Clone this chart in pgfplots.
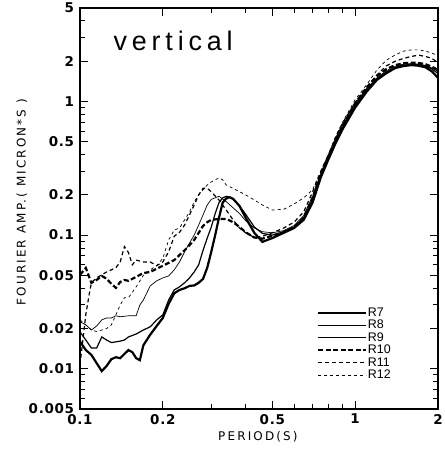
\documentclass[border=0pt]{standalone}
\usepackage{fontspec}
\usepackage{pgfplots}
\pgfplotsset{compat=1.18}
\setmainfont{Liberation Sans}
\newfontfamily\tickfont[LetterSpace=5]{DejaVu Sans}
\newfontfamily\labfont[LetterSpace=18]{DejaVu Sans}
\newfontfamily\vertfont[LetterSpace=18]{Liberation Sans}
\newfontfamily\legfont{Liberation Sans}
\begin{document}
\begin{tikzpicture}
\begin{axis}[
  name=ax,
  scale only axis, width=358bp, height=401bp,
  xmode=log, ymode=log,
  xmin=0.1, xmax=2, ymin=0.005, ymax=5,
  axis line style={line width=1.6bp},
  tick style={line width=1bp, black},
  major tick length=8bp, minor tick length=5bp,
  tick align=inside,
  xtick={0.1,0.2,0.5,1,2}, xticklabels={0.1,0.2,0.5,1,2},
  minor xtick={0.3,0.4,0.6,0.7,0.8,0.9},
  ytick={0.005,0.01,0.02,0.05,0.1,0.2,0.5,1,2,5},
  yticklabels={0.005,0.01,0.02,0.05,0.1,0.2,0.5,1,2,5},
  minor ytick={0.006,0.007,0.008,0.009,0.03,0.04,0.06,0.07,0.08,0.09,0.3,0.4,0.6,0.7,0.8,0.9,3,4},
  ticklabel style={font=\tickfont\bfseries\fontsize{13.5}{13.5}\selectfont},
  /pgf/number format/assume math mode=true,
  yticklabel style={xshift=-2.5bp},
  xticklabel style={yshift=-1.5bp},
  xlabel={PERIOD(S)},
  ylabel={FOURIER AMP.( MICRON*S )},
  label style={font=\labfont\fontsize{12}{12}\selectfont},
  xlabel style={at={(axis description cs:0.497,-0.068)}, anchor=center},
  ylabel style={at={(axis description cs:-0.162,0.516)}, anchor=center, rotate=0},
  legend cell align=left,
  legend image code/.code={\draw[#1] (0bp,0bp) -- (48bp,0bp);},
  legend style={at={(rel axis cs:0.662,0.256)}, anchor=north west, draw=none, fill=none,
    font=\legfont\fontsize{12.5}{12.5}\selectfont, row sep=0bp, inner sep=0pt,
    nodes={inner sep=0.5bp, text height=9bp, text depth=2.5bp}},
]
% R7
\addplot[black, line width=2.2bp] coordinates {
(0.100,0.0160) (0.105,0.0138) (0.110,0.0127) (0.115,0.0110) (0.120,0.0096) (0.125,0.0105)
(0.130,0.0118) (0.135,0.0122) (0.140,0.0120) (0.145,0.0129) (0.150,0.0138) (0.155,0.0133)
(0.160,0.0120) (0.165,0.0116) (0.170,0.0150) (0.180,0.0180) (0.190,0.0209) (0.200,0.0240)
(0.210,0.0306) (0.220,0.0367) (0.230,0.0389) (0.240,0.0400) (0.250,0.0417) (0.260,0.0420)
(0.270,0.0440) (0.280,0.0470) (0.290,0.0570) (0.300,0.0750) (0.310,0.100) (0.320,0.135)
(0.330,0.175) (0.340,0.188) (0.350,0.192) (0.360,0.187) (0.380,0.165) (0.400,0.135)
(0.430,0.104) (0.460,0.089) (0.500,0.095) (0.550,0.104) (0.600,0.113) (0.650,0.130)
(0.700,0.175) (0.750,0.27) (0.800,0.37) (0.850,0.49) (0.900,0.62) (1.0,0.90) (1.1,1.18)
(1.2,1.45) (1.3,1.63) (1.4,1.78) (1.5,1.84) (1.6,1.87) (1.7,1.85) (1.8,1.80) (1.9,1.68) (2.0,1.50)};
\addlegendentry{R7}
% R8
\addplot[black, line width=1.2bp] coordinates {
(0.100,0.0189) (0.105,0.0164) (0.110,0.0143) (0.115,0.0143) (0.120,0.0173) (0.125,0.0164)
(0.130,0.0157) (0.135,0.0159) (0.140,0.0161) (0.145,0.0164) (0.150,0.0173) (0.160,0.0182)
(0.170,0.0195) (0.180,0.0206) (0.190,0.0232) (0.200,0.0253) (0.210,0.0327) (0.220,0.0389)
(0.230,0.0410) (0.240,0.0440) (0.250,0.0478) (0.260,0.0530) (0.270,0.0600) (0.280,0.0770)
(0.290,0.0950) (0.300,0.115) (0.310,0.145) (0.320,0.175) (0.330,0.190) (0.340,0.195)
(0.350,0.192) (0.360,0.185) (0.380,0.165) (0.400,0.143) (0.430,0.115) (0.460,0.103)
(0.500,0.100) (0.550,0.106) (0.600,0.115) (0.650,0.135) (0.700,0.185) (0.750,0.28)
(0.800,0.385) (0.850,0.51) (0.900,0.64) (1.0,0.93) (1.1,1.22) (1.2,1.48) (1.3,1.66)
(1.4,1.80) (1.5,1.87) (1.6,1.89) (1.7,1.88) (1.8,1.84) (1.9,1.75) (2.0,1.62)};
\addlegendentry{R8}
% R9
\addplot[black, line width=0.7bp] coordinates {
(0.100,0.0225) (0.105,0.0213) (0.110,0.0195) (0.115,0.0209) (0.120,0.0232) (0.125,0.0240)
(0.130,0.0240) (0.135,0.0249) (0.140,0.0245) (0.150,0.0249) (0.160,0.0249) (0.165,0.0300)
(0.170,0.0327) (0.180,0.0417) (0.190,0.0455) (0.200,0.0478) (0.210,0.0495) (0.220,0.0549)
(0.230,0.0630) (0.240,0.0750) (0.250,0.0872) (0.260,0.100) (0.270,0.119) (0.280,0.1415)
(0.290,0.168) (0.300,0.185) (0.320,0.195) (0.340,0.178) (0.360,0.160) (0.380,0.145)
(0.400,0.128) (0.430,0.113) (0.460,0.106) (0.500,0.104) (0.550,0.108) (0.600,0.118)
(0.650,0.140) (0.700,0.195) (0.750,0.29) (0.800,0.40) (0.850,0.53) (0.900,0.66) (1.0,0.96)
(1.1,1.25) (1.2,1.50) (1.3,1.70) (1.4,1.83) (1.5,1.90) (1.6,1.92) (1.7,1.90) (1.8,1.86)
(1.9,1.78) (2.0,1.68)};
\addlegendentry{R9}
% R10
\addplot[black, line width=2.2bp, dash pattern=on 5bp off 2.5bp] coordinates {
(0.100,0.0504) (0.105,0.0568) (0.110,0.0439) (0.115,0.0462) (0.120,0.0495) (0.125,0.0471)
(0.130,0.0432) (0.135,0.0403) (0.140,0.0446) (0.145,0.0462) (0.150,0.0455) (0.160,0.0487)
(0.170,0.0520) (0.180,0.0530) (0.190,0.0560) (0.200,0.0590) (0.210,0.0620) (0.220,0.0650)
(0.230,0.0710) (0.240,0.0770) (0.250,0.0840) (0.260,0.0920) (0.270,0.104) (0.280,0.117)
(0.290,0.125) (0.300,0.130) (0.320,0.132) (0.340,0.132) (0.360,0.125) (0.380,0.115)
(0.400,0.105) (0.430,0.096) (0.460,0.094) (0.500,0.099) (0.550,0.105) (0.600,0.115)
(0.650,0.135) (0.700,0.19) (0.750,0.285) (0.800,0.39) (0.850,0.52) (0.900,0.66) (1.0,0.97)
(1.1,1.27) (1.2,1.55) (1.3,1.75) (1.4,1.87) (1.5,1.93) (1.6,1.95) (1.7,1.94) (1.8,1.90)
(1.9,1.82) (2.0,1.72)};
\addlegendentry{R10}
% R11
\addplot[black, line width=1.2bp, dash pattern=on 4bp off 3bp] coordinates {
(0.100,0.0107) (0.103,0.0180) (0.105,0.0255) (0.108,0.0360) (0.110,0.0439) (0.115,0.0480)
(0.120,0.0504) (0.125,0.0530) (0.130,0.0550) (0.135,0.0570) (0.140,0.0630) (0.145,0.082)
(0.150,0.074) (0.155,0.060) (0.160,0.065) (0.170,0.063) (0.180,0.063) (0.190,0.059)
(0.200,0.063) (0.210,0.075) (0.220,0.098) (0.230,0.105) (0.240,0.119) (0.250,0.1415)
(0.260,0.168) (0.270,0.200) (0.280,0.224) (0.290,0.224) (0.300,0.211) (0.320,0.183)
(0.340,0.154) (0.360,0.130) (0.380,0.113) (0.400,0.104) (0.430,0.096) (0.460,0.098)
(0.500,0.104) (0.550,0.113) (0.600,0.125) (0.650,0.149) (0.700,0.21) (0.750,0.30)
(0.800,0.40) (0.850,0.54) (0.900,0.69) (1.0,0.98) (1.1,1.27) (1.2,1.58) (1.3,1.85)
(1.4,2.00) (1.5,2.10) (1.6,2.17) (1.7,2.22) (1.8,2.17) (1.9,2.10) (2.0,1.95)};
\addlegendentry{R11}
% R12
\addplot[black, line width=0.7bp, dash pattern=on 3bp off 3bp] coordinates {
(0.100,0.0232) (0.105,0.0213) (0.110,0.0195) (0.115,0.0190) (0.120,0.0195) (0.125,0.0200)
(0.130,0.0213) (0.135,0.0253) (0.140,0.0300) (0.145,0.0340) (0.150,0.0340) (0.160,0.0410)
(0.170,0.0500) (0.180,0.0550) (0.190,0.0590) (0.200,0.0670) (0.210,0.0920) (0.220,0.109)
(0.230,0.113) (0.240,0.130) (0.250,0.149) (0.260,0.177) (0.270,0.200) (0.280,0.218)
(0.290,0.237) (0.300,0.250) (0.320,0.268) (0.330,0.259) (0.340,0.237) (0.360,0.224)
(0.380,0.211) (0.400,0.200) (0.430,0.183) (0.460,0.168) (0.500,0.154) (0.550,0.156)
(0.600,0.171) (0.650,0.190) (0.700,0.218) (0.750,0.30) (0.800,0.40) (0.850,0.55)
(0.900,0.70) (1.0,1.03) (1.1,1.33) (1.2,1.72) (1.3,2.04) (1.4,2.23) (1.5,2.38) (1.6,2.43)
(1.7,2.43) (1.8,2.38) (1.9,2.30) (2.0,2.20)};
\addlegendentry{R12}
\node[anchor=west, font=\vertfont\fontsize{27}{27}\selectfont] at (rel axis cs:0.084,0.918) {vertical};
\end{axis}
\pgfresetboundingbox
\path ([xshift=-80bp,yshift=-43bp]ax.south west) rectangle ([xshift=7bp,yshift=8bp]ax.north east);
\end{tikzpicture}
\end{document}
